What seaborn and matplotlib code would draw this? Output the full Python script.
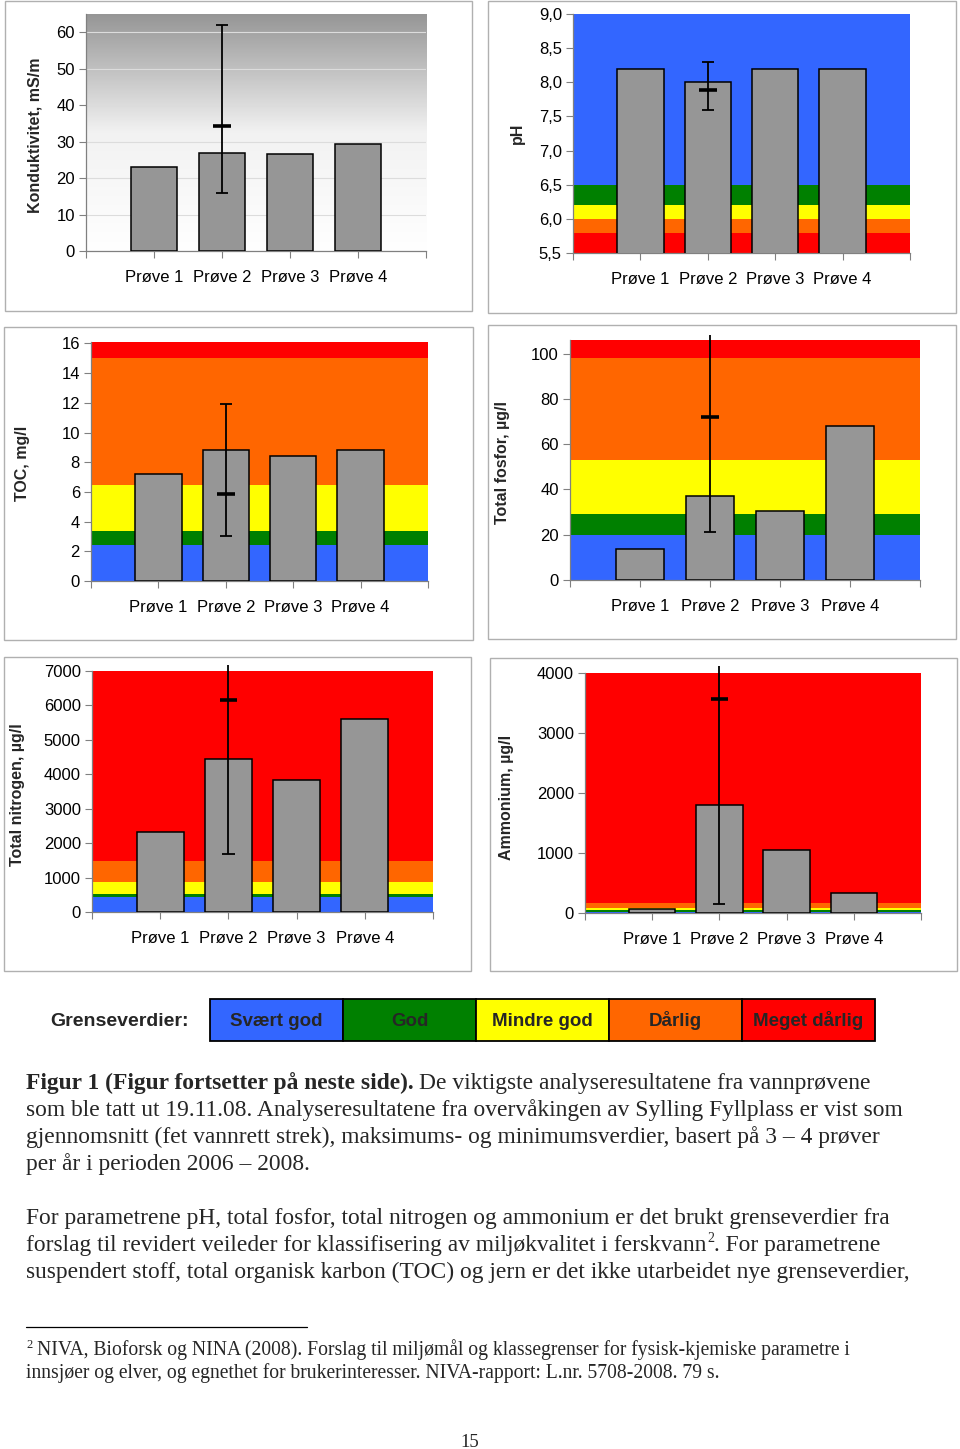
import numpy as np
import pandas as pd
import seaborn as sns
import matplotlib
matplotlib.use("Agg")
import matplotlib.pyplot as plt
from matplotlib.patches import Rectangle
from matplotlib.lines import Line2D
from matplotlib.colors import LinearSegmentedColormap
from matplotlib.ticker import FuncFormatter
from matplotlib import font_manager

# ---------------- data ----------------
samples = ["Prøve 1", "Prøve 2", "Prøve 3", "Prøve 4"]

class_names = ["Svært god", "God", "Mindre god", "Dårlig", "Meget dårlig"]
class_colors = ["#3366FF", "#008000", "#FFFF00", "#FF6600", "#FF0000"]

konduktivitet = [23.0, 26.9, 26.5, 29.4]
konduktivitet_err = [16.0, 34.4, 62.0]          # min, mean, max (Prøve 2)

ph = [8.2, 8.0, 8.2, 8.2]
ph_err = [7.6, 7.88, 8.3]
ph_bounds = [5.5, 5.8, 6.0, 6.2, 6.5, 9.0]
ph_classes = [4, 3, 2, 1, 0]

toc = [7.2, 8.8, 8.4, 8.8]
toc_err = [3.0, 5.85, 11.9]
toc_bounds = [0, 2.4, 3.4, 6.5, 15.0, 16.1]
toc_classes = [0, 1, 2, 3, 4]

fosfor = [13.8, 37.1, 30.6, 67.9]
fosfor_err = [21.0, 71.9, 108.0]
fosfor_bounds = [0, 20, 29, 53, 98, 106]
fosfor_classes = [0, 1, 2, 3, 4]

nitrogen = [2320, 4440, 3840, 5620]
nitrogen_err = [1690, 6160, 7180]
nitrogen_bounds = [0, 450, 520, 880, 1470, 7000]
nitrogen_classes = [0, 1, 2, 3, 4]

ammonium = [67, 1805, 1058, 329]
ammonium_err = [156, 3565, 4110]
ammonium_bounds = [0, 25, 50, 90, 160, 4000]
ammonium_classes = [0, 1, 2, 3, 4]

# ---------------- style ----------------
W, H = 960, 1449
sns.set_style("white")
plt.rcParams["font.family"] = ["Liberation Sans", "DejaVu Sans"]
available = {f.name for f in font_manager.fontManager.ttflist}
narrow = "Liberation Sans Narrow" if "Liberation Sans Narrow" in available else "Liberation Sans"
serif = "Liberation Serif" if "Liberation Serif" in available else "DejaVu Serif"

fig = plt.figure(figsize=(W / 100, H / 100), dpi=100)
fig.patch.set_facecolor("white")


def frect(x0, y0, x1, y1):
    return [x0 / W, 1 - y1 / H, (x1 - x0) / W, (y1 - y0) / H]


grad_cmap = LinearSegmentedColormap.from_list("grad", ["#ffffff", "#f2f2f2", "#969696"])


def panel(frame, box, label, label_xy, values, err, ylim, yticks,
          bounds=None, classes=None, fmt=None, gradient=False):
    fx0, fy0, fx1, fy1 = frame
    fig.add_artist(Rectangle((fx0 / W, 1 - fy1 / H), (fx1 - fx0) / W, (fy1 - fy0) / H,
                             transform=fig.transFigure, fill=False,
                             edgecolor="#b0b0b0", lw=1.0))
    ax = fig.add_axes(frect(*box))
    df = pd.DataFrame({"Prøve": samples, "verdi": values})
    sns.barplot(data=df, x="Prøve", y="verdi", color="#969696", saturation=1,
                edgecolor="black", linewidth=1.1, width=0.69, errorbar=None,
                ax=ax, zorder=3)
    if bounds is not None:
        for lo, hi, c in zip(bounds[:-1], bounds[1:], classes):
            ax.axhspan(lo, hi, color=class_colors[c], lw=0, zorder=0)
    if gradient:
        ax.imshow(np.linspace(0, 1, 256)[:, None], extent=(-1, 4, ylim[0], ylim[1]),
                  origin="lower", aspect="auto", cmap=grad_cmap, zorder=0)
        ax.set_axisbelow(True)
        ax.yaxis.grid(True, color="#dcdcdc", lw=0.8)
    mn, mean, mx = err
    ax.vlines(1, mn, mx, colors="black", lw=1.3, zorder=5, clip_on=False)
    ax.hlines(mn, 1 - 0.09, 1 + 0.09, colors="black", lw=1.3, zorder=5)
    if mx <= ylim[1]:
        ax.hlines(mx, 1 - 0.09, 1 + 0.09, colors="black", lw=1.3, zorder=5)
    ax.hlines(mean, 1 - 0.13, 1 + 0.13, colors="black", lw=2.6, zorder=5)

    ax.set_xlim(-1, 4)
    ax.set_ylim(*ylim)
    ax.set_yticks(yticks)
    if fmt is not None:
        ax.yaxis.set_major_formatter(FuncFormatter(fmt))
    ax.set_xticks(range(-1, 5))
    ax.set_xticklabels([""] + samples + [""])
    ax.set_xlabel("")
    for s in ["top", "right"]:
        ax.spines[s].set_visible(False)
    for s in ["left", "bottom"]:
        ax.spines[s].set_color("#808080")
        ax.spines[s].set_linewidth(0.9)
    ax.tick_params(axis="both", which="both", direction="out", length=5, width=0.8,
                   color="#808080", labelsize=12, labelcolor="black",
                   bottom=True, left=True)
    ax.tick_params(axis="x", pad=9)
    ax.tick_params(axis="y", pad=3)
    ax.set_ylabel(label, fontweight="bold", fontsize=11.5)
    ax.yaxis.set_label_coords(label_xy[0] / W, 1 - label_xy[1] / H, transform=fig.transFigure)
    ax.yaxis.label.set_va("center")
    return ax


comma = lambda v, p: f"{v:.1f}".replace(".", ",")

panel((5, 1, 472, 311), (86, 14, 426, 251), "Konduktivitet, mS/m", (35, 135),
      konduktivitet, konduktivitet_err, (0, 65), range(0, 61, 10), gradient=True)
panel((488, 1, 956, 313), (573, 14, 910, 253), "pH", (517, 133),
      ph, ph_err, (5.5, 9.0), np.arange(5.5, 9.01, 0.5), ph_bounds, ph_classes, fmt=comma)
panel((4, 327, 473, 640), (91, 342, 428, 581), "TOC, mg/l", (23, 463),
      toc, toc_err, (0, 16.1), range(0, 17, 2), toc_bounds, toc_classes)
panel((488, 325, 956, 639), (570, 340, 920, 580), "Total fosfor, µg/l", (503, 463),
      fosfor, fosfor_err, (0, 106), range(0, 101, 20), fosfor_bounds, fosfor_classes)
panel((4, 657, 471, 971), (92, 671, 433, 912), "Total nitrogen, µg/l", (18, 795),
      nitrogen, nitrogen_err, (0, 7000), range(0, 7001, 1000), nitrogen_bounds, nitrogen_classes)
panel((490, 658, 957, 971), (585, 673, 921, 913), "Ammonium, µg/l", (506, 797),
      ammonium, ammonium_err, (0, 4000), range(0, 4001, 1000), ammonium_bounds, ammonium_classes)

# ---------------- legend strip ----------------
fig.text(50 / W, 1 - 1021 / H, "Grenseverdier:", family=narrow, fontweight="bold",
         fontsize=14, ha="left", va="center")
for i, (name, col) in enumerate(zip(class_names, class_colors)):
    x0 = 210 + i * 133
    fig.add_artist(Rectangle((x0 / W, 1 - 1041 / H), 133 / W, 42 / H, transform=fig.transFigure,
                             facecolor=col, edgecolor="black", lw=1.3))
    fig.text((x0 + 66.5) / W, 1 - 1021 / H, name, family=narrow, fontweight="bold",
             fontsize=13.5, ha="center", va="center")

# ---------------- caption text ----------------
renderer = fig.canvas.get_renderer()


def put(x, yb, s, size=16.9, **kw):
    t = fig.text(x / W, 1 - yb / H, s, family=serif, fontsize=size, ha="left",
                 va="baseline", **kw)
    return t.get_window_extent(renderer).x1


x = put(26, 1089, "Figur 1 (Figur fortsetter på neste side).", fontweight="bold")
put(x + 5, 1089, "De viktigste analyseresultatene fra vannprøvene")
put(26, 1116, "som ble tatt ut 19.11.08. Analyseresultatene fra overvåkingen av Sylling Fyllplass er vist som")
put(26, 1143, "gjennomsnitt (fet vannrett strek), maksimums- og minimumsverdier, basert på 3 – 4 prøver")
put(26, 1170, "per år i perioden 2006 – 2008.")
put(26, 1224, "For parametrene pH, total fosfor, total nitrogen og ammonium er det brukt grenseverdier fra")
x = put(26, 1251, "forslag til revidert veileder for klassifisering av miljøkvalitet i ferskvann")
x = put(x + 1, 1242, "2", size=10)
put(x, 1251, ". For parametrene")
put(26, 1278, "suspendert stoff, total organisk karbon (TOC) og jern er det ikke utarbeidet nye grenseverdier,")

fig.add_artist(Line2D([26 / W, 307 / W], [1 - 1327 / H, 1 - 1327 / H], transform=fig.transFigure,
                      color="black", lw=0.9))
put(26, 1348, "2", size=9)
put(37, 1355, "NIVA, Bioforsk og NINA (2008). Forslag til miljømål og klassegrenser for fysisk-kjemiske parametre i", size=14.1)
put(26, 1378, "innsjøer og elver, og egnethet for brukerinteresser. NIVA-rapport: L.nr. 5708-2008. 79 s.", size=14.1)
fig.text(470 / W, 1 - 1447 / H, "15", family=serif, fontsize=13.5, ha="center", va="baseline")

fig.savefig("out.png", dpi=100)
